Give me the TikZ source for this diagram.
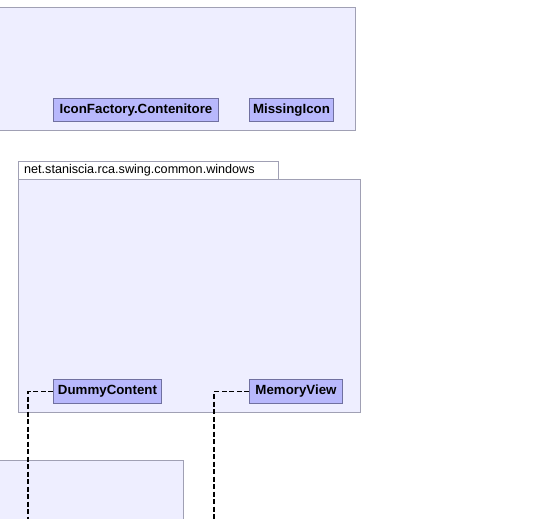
\documentclass[tikz,border=0pt]{standalone}
\usepackage{fontspec}
\setmainfont{Liberation Sans}
\usetikzlibrary{positioning}

\definecolor{packfill}{RGB}{238,238,255}
\definecolor{packline}{RGB}{160,160,180}
\definecolor{classfill}{RGB}{184,184,252}
\definecolor{classline}{RGB}{112,112,160}

\tikzset{
  package/.style = {draw=packline, fill=packfill, line width=1pt},
  packtab/.style = {draw=packline, fill=white, line width=1pt},
  classbox/.style = {draw=classline, fill=classfill, line width=1pt,
    font=\fontsize{13.3}{15}\selectfont\bfseries, inner sep=0pt,
    minimum height=23pt},
  depend/.style = {draw=black, line width=1.1pt, dash pattern=on 5pt off 2.5pt}
}

\begin{document}
\begin{tikzpicture}
  [x=1pt, y=-1pt]
  \useasboundingbox (0,0) rectangle (544,519);

  % packages
  \draw[package] (-5,8) rectangle (355,130);
  \draw[packtab] (18,161) rectangle (278,179);
  \draw[package] (18,179) rectangle (360,412);
  \draw[package] (-5,460) rectangle (183,530);
  \node[anchor=west, inner sep=0pt, font=\fontsize{12.6}{14}\selectfont]
    (windows label) at (24,170) {net.staniscia.rca.swing.common.windows};

  % classes
  \node[classbox, minimum width=165pt, anchor=north west] (contenitore)
    at (53,98) {IconFactory.Contenitore};
  \node[classbox, minimum width=84pt] (missing icon)
    [right=30pt of contenitore] {MissingIcon};

  \node[classbox, minimum width=108pt, minimum height=24pt, anchor=north west]
    (dummy content) at (53,379) {DummyContent};
  \node[classbox, minimum width=93pt, minimum height=24pt] (memory view)
    [right=87pt of dummy content] {MemoryView};

  % dependencies
  \coordinate (dummy end) at (28,525);
  \coordinate (memory end) at (214,525);
  \draw[depend] (dummy content.west) -| (dummy end);
  \draw[depend] (memory view.west) -| (memory end);
\end{tikzpicture}
\end{document}
